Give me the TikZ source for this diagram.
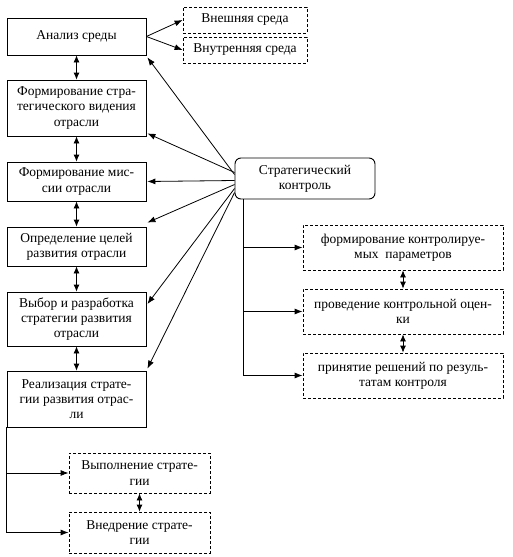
\documentclass[tikz,border=0pt]{standalone}
\usepackage{fontspec}
\setmainfont{Liberation Serif}
\newfontfamily\tnr{Liberation Serif}
\usetikzlibrary{arrows.meta,calc}
\begin{document}
\begin{tikzpicture}[x=1pt,y=-1pt,
  every node/.style={font=\tnr\fontsize{13.5}{15.3}\selectfont, align=center, inner sep=1pt},
  solidbox/.style={draw, line width=0.8pt, minimum width=139pt},
  dashbox/.style={draw, dash pattern=on 3pt off 2pt, line width=0.8pt},
  ctrlbox/.style={draw, line width=0.9pt, rounded corners=6pt, minimum width=140pt, minimum height=41pt},
  conn/.style={line width=0.8pt, -{Latex[length=8pt,width=6pt]}},
  dconn/.style={line width=0.8pt, {Latex[length=7pt,width=6pt]}-{Latex[length=7pt,width=6pt]}},
  plain/.style={line width=0.8pt}]
\useasboundingbox (0,0) rectangle (512,557);
% left column
\node[solidbox, minimum height=37pt] (b1) at (76.5,36.5) {Анализ среды};
\node[solidbox, minimum height=56pt] (b2) at (76.5,108) {Формирование стра-\\тегического видения\\отрасли};
\node[solidbox, minimum height=39pt] (b3) at (76.5,181.5) {Формирование мис-\\сии отрасли};
\node[solidbox, minimum height=39pt] (b4) at (76.5,246.5) {Определение целей\\развития отрасли};
\node[solidbox, minimum height=54pt] (b5) at (76.5,319) {Выбор и разработка\\стратегии развития\\отрасли};
\node[solidbox, minimum height=56pt] (b6) at (76.5,399) {Реализация страте-\\гии развития отрас-\\ли};
% environment
\node[dashbox, minimum width=124pt, minimum height=26pt] (ext) at (245,20) {Внешняя среда};
\node[dashbox, minimum width=124pt, minimum height=26pt] (int) at (245,50) {Внутренняя среда};
% control
\node[ctrlbox] (ctrl) at (305,178.5) {Стратегический\\контроль};
\node[dashbox, minimum width=200pt, minimum height=45pt] (p1) at (403,247.5) {формирование контролируе-\\мых\ \ параметров};
\node[dashbox, minimum width=200pt, minimum height=45pt] (p2) at (403,311.5) {проведение контрольной оцен-\\ки};
\node[dashbox, minimum width=200pt, minimum height=45pt] (p3) at (403,375.5) {принятие решений по резуль-\\татам контроля};
% realization
\node[dashbox, minimum width=141pt, minimum height=40pt] (r1) at (139.5,473) {Выполнение страте-\\гии};
\node[dashbox, minimum width=141pt, minimum height=41pt] (r2) at (139.5,532.5) {Внедрение страте-\\гии};
% connectors
\draw[conn] (b1.east) -- (ext.west);
\draw[conn] (b1.east) -- (int.west);
\draw[dconn] (b1.south) -- (b2.north);
\draw[dconn] (b2.south) -- (b3.north);
\draw[dconn] (b3.south) -- (b4.north);
\draw[dconn] (b4.south) -- (b5.north);
\draw[dconn] (b5.south) -- (b6.north);
\draw[conn] ($(ctrl.west)+(0,-4)$) -- ($(b1.south east)+(1,2)$);
\draw[conn] ($(ctrl.west)+(0,-6)$) -- ($(b2.south east)+(1,-3)$);
\draw[conn] ($(ctrl.west)+(0,2)$) -- ($(b3.east)+(1,0)$);
\draw[conn] ($(ctrl.west)+(0,6)$) -- ($(b4.north east)+(1,-4)$);
\draw[conn] ($(ctrl.west)+(0,10)$) -- ($(b5.east)+(1,-15)$);
\draw[conn] ($(ctrl.west)+(0,14)$) -- ($(b6.north east)+(1,-2)$);
\coordinate (ct) at ($(ctrl.south west)+(9,0)$);
\draw[plain] (ct) -- (ct |- p3.west);
\draw[conn] (ct |- p1.west) -- (p1.west);
\draw[conn] (ct |- p2.west) -- (p2.west);
\draw[conn] (ct |- p3.west) -- (p3.west);
\draw[dconn] (p1.south) -- (p2.north);
\draw[dconn] (p2.south) -- (p3.north);
\coordinate (rl) at (b6.south west);
\draw[plain] (rl) -- (rl |- r2.west);
\draw[conn] (rl |- r1.west) -- (r1.west);
\draw[conn] (rl |- r2.west) -- (r2.west);
\draw[dconn] (r1.south) -- (r2.north);
\end{tikzpicture}
\end{document}
